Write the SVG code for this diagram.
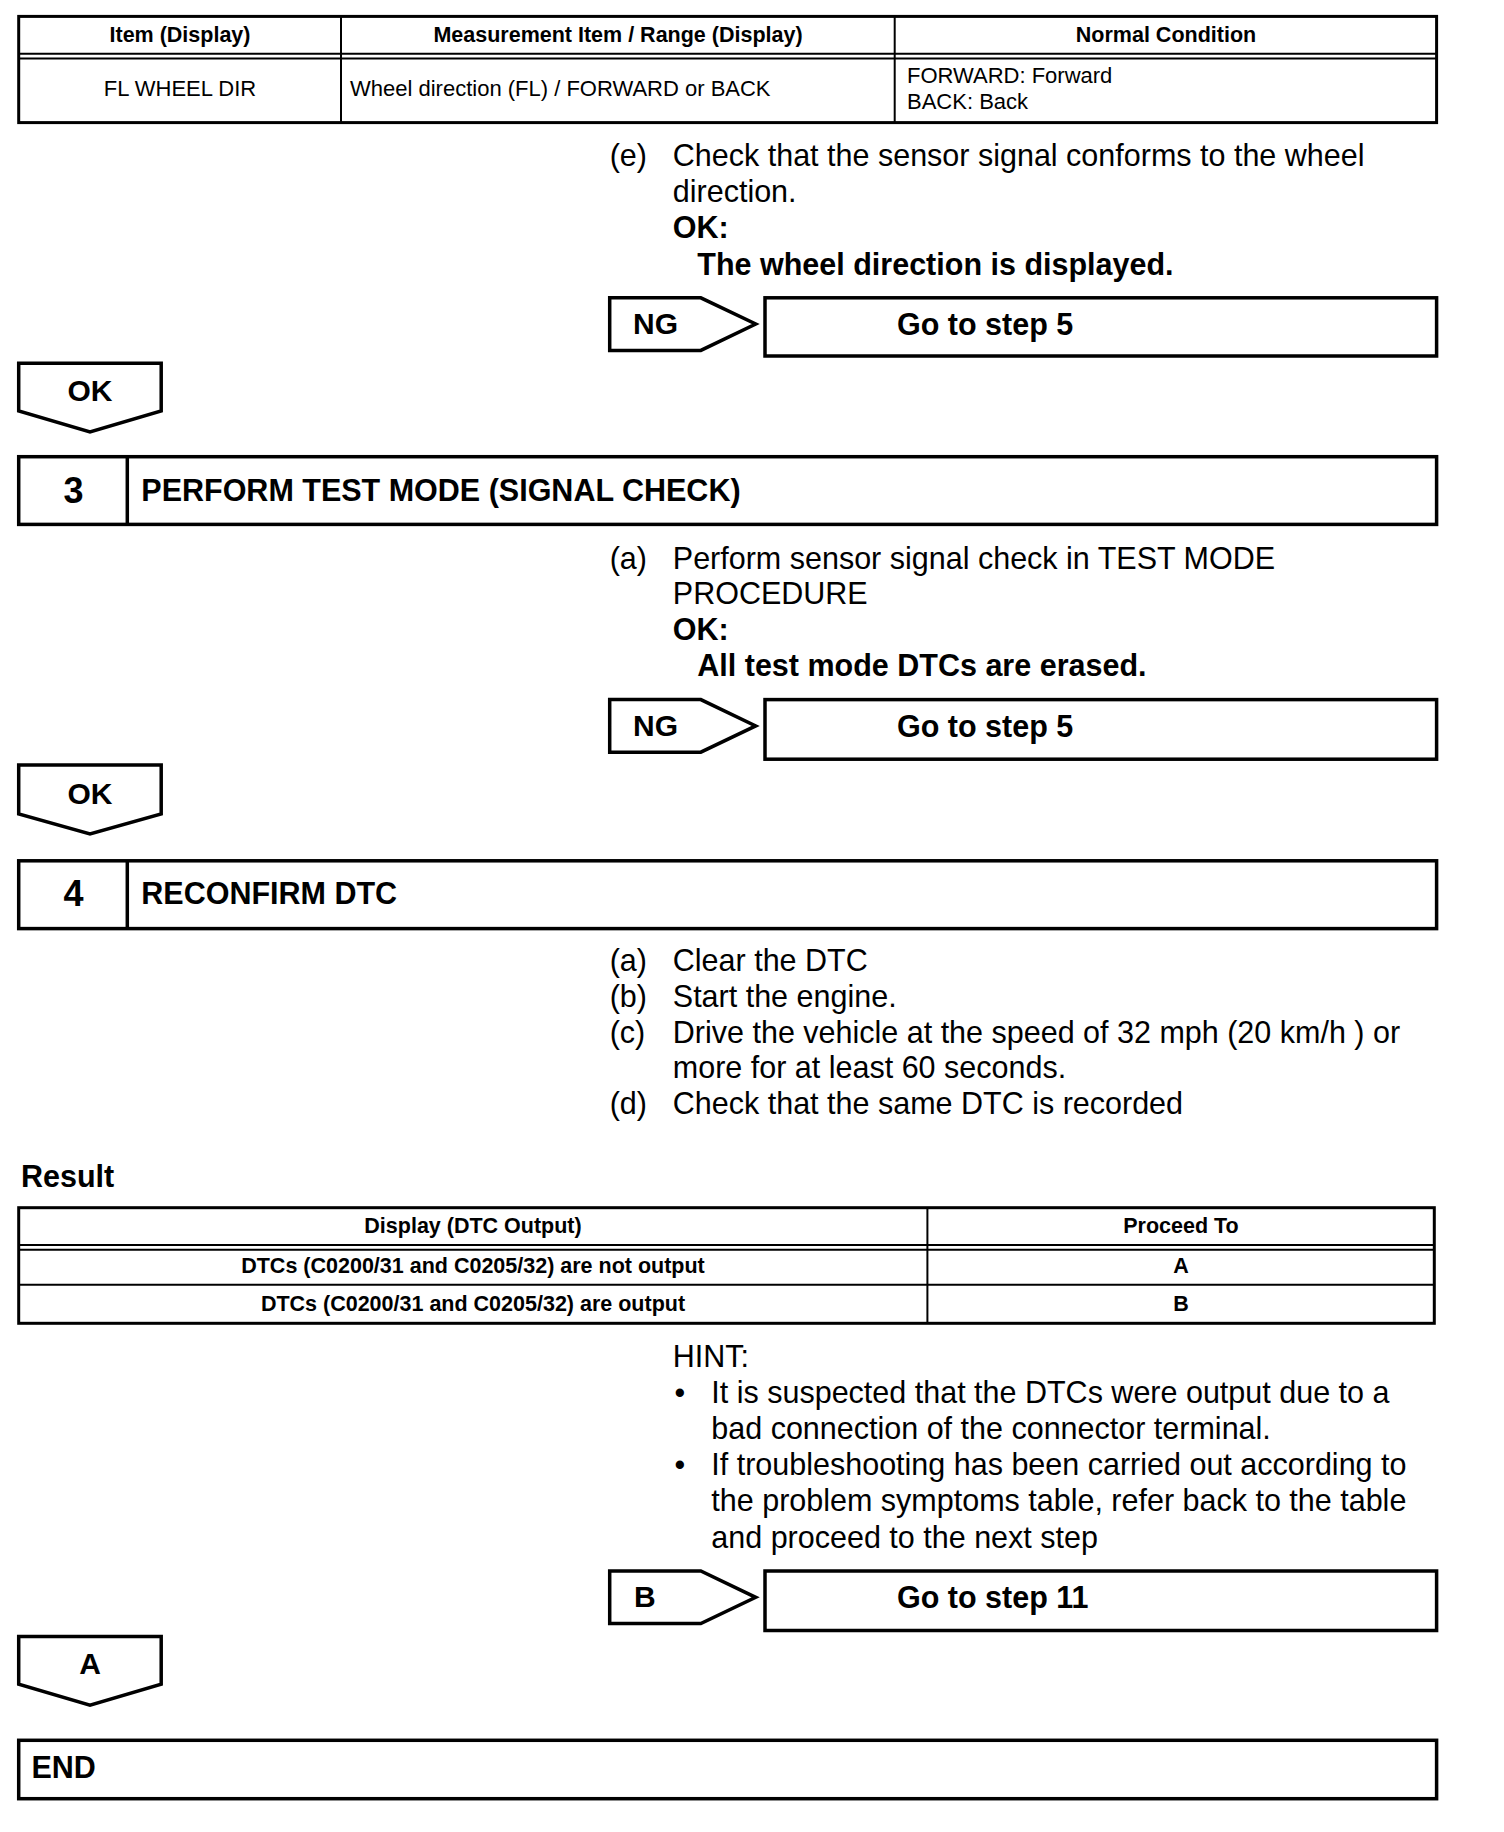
<svg xmlns="http://www.w3.org/2000/svg" width="1504" height="1832" viewBox="0 0 1504 1832">
<style>
text{font-family:"Liberation Sans",Arial,sans-serif;fill:#000}
.th{font-size:21.5px;font-weight:bold;text-anchor:middle}
.td{font-size:22px}
.tb{font-size:21.5px;font-weight:bold;text-anchor:middle}
.body{font-size:30.5px}
.bold{font-size:30.5px;font-weight:bold}
.lab{font-size:30px;font-weight:bold}
.num{font-size:36px;font-weight:bold;text-anchor:middle}
.box{fill:#fff;stroke:#000;stroke-width:3.5}
.outer{fill:none;stroke:#000;stroke-width:3}
.inner{fill:none;stroke:#000;stroke-width:2}
</style>
<rect width="1504" height="1832" fill="#fff"/>

<g id="table1">
<rect class="outer" x="18.7" y="16.4" width="1417.9" height="106.2"/>
<line class="inner" x1="18.7" y1="53.7" x2="1436.6" y2="53.7"/>
<line class="inner" x1="18.7" y1="58.4" x2="1436.6" y2="58.4"/>
<line class="inner" x1="341" y1="16.4" x2="341" y2="122.6"/>
<line class="inner" x1="894.7" y1="16.4" x2="894.7" y2="122.6"/>
<text class="th" x="180" y="42">Item (Display)</text>
<text class="th" x="618" y="42">Measurement Item / Range (Display)</text>
<text class="th" x="1166" y="42">Normal Condition</text>
<text class="td" x="180" y="95.5" text-anchor="middle">FL WHEEL DIR</text>
<text class="td" x="350" y="95.5">Wheel direction (FL) / FORWARD or BACK</text>
<text class="td" x="907" y="83">FORWARD: Forward</text>
<text class="td" x="907" y="109">BACK: Back</text>
</g>

<g id="text-e">
<text class="body" x="609.7" y="166.4">(e)</text>
<text class="body" x="672.8" y="166.4">Check that the sensor signal conforms to the wheel</text>
<text class="body" x="672.8" y="202">direction.</text>
<text class="bold" x="672.8" y="238">OK:</text>
<text class="bold" x="697.3" y="274.5">The wheel direction is displayed.</text>
</g>

<g id="ng1">
<path class="box" d="M609.7,297.8 H700.8 L755.7,324 L700.8,350.4 H609.7 Z"/>
<text class="lab" x="633" y="334">NG</text>
</g>
<g id="goto1">
<rect class="box" x="765" y="297.8" width="671.6" height="58.2"/>
<text class="bold" x="897" y="335">Go to step 5</text>
</g>

<g id="ok1">
<path class="box" d="M18.7,363.2 H161.2 V411 L90,432 L18.7,411 Z"/>
<text class="lab" x="90" y="401" text-anchor="middle">OK</text>
</g>

<g id="step3">
<rect class="box" x="18.7" y="456.7" width="1417.9" height="67.7"/>
<line class="box" x1="127.3" y1="456.7" x2="127.3" y2="524.4"/>
<text class="num" x="73.6" y="503">3</text>
<text class="bold" x="141.3" y="501">PERFORM TEST MODE (SIGNAL CHECK)</text>
</g>

<g id="text-3a">
<text class="body" x="609.7" y="568.8">(a)</text>
<text class="body" x="672.8" y="568.8">Perform sensor signal check in TEST MODE</text>
<text class="body" x="672.8" y="603.9">PROCEDURE</text>
<text class="bold" x="672.8" y="640">OK:</text>
<text class="bold" x="697.3" y="676.3">All test mode DTCs are erased.</text>
</g>

<g id="ng2">
<path class="box" d="M609.7,699.6 H700.8 L755.7,725.9 L700.8,752.2 H609.7 Z"/>
<text class="lab" x="633" y="736">NG</text>
</g>
<g id="goto2">
<rect class="box" x="765" y="699.6" width="671.6" height="59.6"/>
<text class="bold" x="897" y="737">Go to step 5</text>
</g>

<g id="ok2">
<path class="box" d="M18.7,765 H161.2 V814 L90,834 L18.7,814 Z"/>
<text class="lab" x="90" y="804" text-anchor="middle">OK</text>
</g>

<g id="step4">
<rect class="box" x="18.7" y="860.8" width="1417.9" height="67.8"/>
<line class="box" x1="127.3" y1="860.8" x2="127.3" y2="928.6"/>
<text class="num" x="73.6" y="906">4</text>
<text class="bold" x="141.3" y="904">RECONFIRM DTC</text>
</g>

<g id="text-4">
<text class="body" x="609.7" y="970.6">(a)</text>
<text class="body" x="672.8" y="970.6">Clear the DTC</text>
<text class="body" x="609.7" y="1006.8">(b)</text>
<text class="body" x="672.8" y="1006.8">Start the engine.</text>
<text class="body" x="609.7" y="1043">(c)</text>
<text class="body" x="672.8" y="1043">Drive the vehicle at the speed of 32 mph (20 km/h ) or</text>
<text class="body" x="672.8" y="1078">more for at least 60 seconds.</text>
<text class="body" x="609.7" y="1114.3">(d)</text>
<text class="body" x="672.8" y="1114.3">Check that the same DTC is recorded</text>
</g>

<g id="result-title">
<text class="bold" x="21" y="1186.7">Result</text>
</g>

<g id="table2">
<rect class="outer" x="18.7" y="1207.7" width="1415.6" height="115.6"/>
<line class="inner" x1="18.7" y1="1245" x2="1434.3" y2="1245"/>
<line class="inner" x1="18.7" y1="1249.8" x2="1434.3" y2="1249.8"/>
<line class="inner" x1="18.7" y1="1284.8" x2="1434.3" y2="1284.8"/>
<line class="inner" x1="927.4" y1="1207.7" x2="927.4" y2="1323.3"/>
<text class="th" x="473" y="1233">Display (DTC Output)</text>
<text class="th" x="1181" y="1233">Proceed To</text>
<text class="tb" x="473" y="1272.5">DTCs (C0200/31 and C0205/32) are not output</text>
<text class="tb" x="1181" y="1272.5">A</text>
<text class="tb" x="473" y="1311">DTCs (C0200/31 and C0205/32) are output</text>
<text class="tb" x="1181" y="1311">B</text>
</g>

<g id="hint">
<text class="body" x="672.8" y="1366.6">HINT:</text>
<text class="body" x="674.5" y="1402.8">•</text>
<text class="body" x="711.3" y="1402.8">It is suspected that the DTCs were output due to a</text>
<text class="body" x="711.3" y="1439">bad connection of the connector terminal.</text>
<text class="body" x="674.5" y="1475.2">•</text>
<text class="body" x="711.3" y="1475.2">If troubleshooting has been carried out according to</text>
<text class="body" x="711.3" y="1511.4">the problem symptoms table, refer back to the table</text>
<text class="body" x="711.3" y="1547.6">and proceed to the next step</text>
</g>

<g id="b-branch">
<path class="box" d="M609.7,1571 H700.8 L755.7,1597.3 L700.8,1623.5 H609.7 Z"/>
<text class="lab" x="634" y="1607">B</text>
</g>
<g id="goto11">
<rect class="box" x="765" y="1571" width="671.6" height="59.5"/>
<text class="bold" x="897" y="1608">Go to step 11</text>
</g>

<g id="a-branch">
<path class="box" d="M18.7,1636.4 H161.2 V1684.3 L90,1705.3 L18.7,1684.3 Z"/>
<text class="lab" x="90" y="1674" text-anchor="middle">A</text>
</g>

<g id="end">
<rect class="box" x="18.7" y="1740.3" width="1417.9" height="58.4"/>
<text class="bold" x="31.5" y="1777.7">END</text>
</g>

<g id="connectors"></g>
</svg>
